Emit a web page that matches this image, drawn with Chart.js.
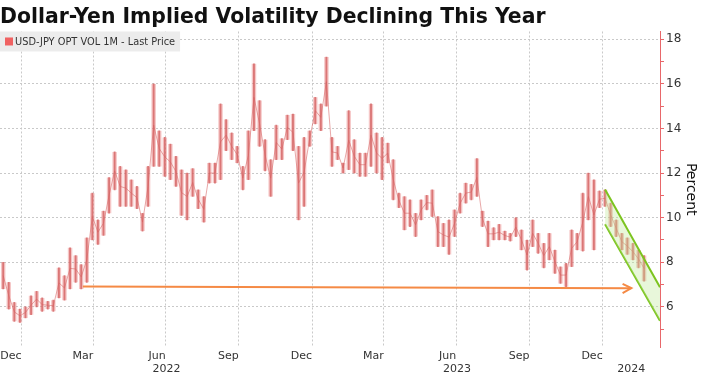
<!DOCTYPE html>
<html>
<head>
<meta charset="utf-8">
<script src="https://cdn.jsdelivr.net/npm/chart.js@4.4.1/dist/chart.umd.min.js"></script>
<style>
  html, body { margin: 0; padding: 0; background: #fff; }
  #wrap { position: relative; width: 701px; height: 376px; }
</style>
</head>
<body>
<div id="wrap"><canvas id="chart" width="701" height="376"></canvas></div>
<script>
/* ─── Data ───────────────────────────────────────────────────────────────── */
const DAY  = 86400000;
const BASE = Date.UTC(2021, 11, 31);
const dayOf = s => (Date.parse(s) - BASE) / DAY;

const TITLE        = 'Dollar-Yen Implied Volatility Declining This Year';
const SERIES_LABEL = 'USD-JPY OPT VOL 1M - Last Price';
const Y_TITLE      = 'Percent';

// weekly low/high, one bar per week, first week centred on this Wednesday
const FIRST_WEEK = '2021-12-08';
const WEEK_LOW = [
  6.8, 5.9, 5.35, 5.3, 5.5, 5.65, 6.0, 5.8, 5.9, 5.8,
  6.4, 6.3, 6.8, 7.1, 6.8, 7.1, 9.0, 8.8, 9.2, 10.2,
  11.25, 10.5, 10.5, 10.5, 10.4, 9.4, 10.5, 12.3, 12.3, 11.85,
  11.7, 11.4, 10.1, 9.9, 10.95, 10.4, 9.8, 11.55, 11.55, 11.7,
  13.0, 12.6, 12.45, 11.25, 11.7, 13.9, 13.2, 12.1, 10.95, 12.6,
  12.6, 13.5, 13.0, 9.9, 10.5, 13.2, 14.2, 13.9, 15.0, 12.3,
  12.6, 12.0, 12.15, 12.0, 11.85, 11.85, 12.3, 12.0, 11.7, 12.45,
  10.8, 10.45, 9.45, 9.6, 9.15, 9.9, 10.35, 10.05, 8.7, 8.7,
  8.35, 9.15, 10.2, 10.65, 10.8, 10.95, 9.6, 8.7, 9.0, 9.0,
  9.0, 8.95, 9.15, 8.55, 7.65, 8.7, 8.4, 7.75, 8.1, 7.5,
  7.05, 6.9, 7.8, 8.55, 8.5, 9.9, 8.55, 10.45, 10.5, 9.6,
  9.15, 8.55, 8.35, 8.1, 7.75, 7.15
];
const WEEK_HIGH = [
  8.0, 7.1, 6.2, 5.9, 6.0, 6.5, 6.7, 6.4, 6.25, 6.3,
  7.75, 7.4, 8.65, 8.3, 7.9, 9.1, 11.1, 9.9, 10.3, 11.8,
  12.95, 12.3, 12.15, 11.7, 11.4, 10.2, 12.3, 16.0, 13.9, 13.6,
  13.3, 12.75, 12.15, 12.0, 12.2, 11.25, 10.95, 12.45, 12.45, 15.1,
  14.4, 13.8, 13.2, 12.3, 13.9, 16.9, 15.25, 13.5, 12.6, 14.15,
  13.55, 14.6, 14.65, 13.2, 13.6, 13.9, 15.4, 15.1, 17.2, 13.6,
  13.2, 12.45, 14.8, 13.5, 12.9, 12.9, 15.1, 13.8, 13.6, 13.35,
  12.6, 11.1, 10.95, 10.8, 10.2, 10.8, 11.0, 11.25, 10.05, 9.75,
  9.9, 10.35, 11.1, 11.55, 11.5, 12.65, 10.3, 9.85, 9.55, 9.7,
  9.4, 9.3, 10.0, 9.45, 9.0, 9.9, 9.3, 8.85, 9.3, 8.55,
  7.8, 7.95, 9.45, 9.3, 11.1, 12.0, 11.7, 11.2, 11.25, 10.65,
  9.9, 9.3, 9.1, 8.85, 8.55, 8.3
];

const X_RANGE      = ['2021-12-04', '2024-03-12'];
const MONTH_TICKS  = ['2021-12-31', '2022-03-31', '2022-06-30', '2022-09-30', '2022-12-31',
                      '2023-03-31', '2023-06-30', '2023-09-30', '2023-12-31'];
const MONTH_LABELS = ['Dec', 'Mar', 'Jun', 'Sep', 'Dec', 'Mar', 'Jun', 'Sep', 'Dec'];
const YEAR_TICKS   = ['2022-07-01', '2023-07-01', '2024-02-05'];
const YEAR_LABELS  = ['2022', '2023', '2024'];
const Y_RANGE      = [4.2, 18.35];
const Y_TICKS      = [5, 6, 7, 8, 9, 10, 11, 12, 13, 14, 15, 16, 17, 18];

// annotations drawn on top of the chart
const ARROW_X      = ['2022-03-18', '2024-02-05'];
const ARROW_Y      = [6.91, 6.84];
const ARROW_HEAD_X = ['2024-01-25', '2024-02-05', '2024-01-25'];
const ARROW_HEAD_Y = [7.03, 6.84, 6.62];
const CHANNEL_X    = ['2024-01-03', '2024-03-12'];
const CHANNEL_TOP  = [11.26, 6.88];
const CHANNEL_LOW  = [9.71, 5.38];

/* ─── Styles ─────────────────────────────────────────────────────────────── */
const FONT   = '"DejaVu Sans", Verdana, sans-serif';
const RED    = '#e8676a';
const GRID   = '#c9c9c9';
const ORANGE = '#f58a45';
const GREEN  = '#7cc41f';

const pts = (xs, ys) => xs.map((s, i) => ({ x: dayOf(s), y: ys[i] }));
const firstDay = dayOf(FIRST_WEEK);
const weekBars = WEEK_LOW.map((lo, i) => ({ x: firstDay + 7 * i, y: [lo, WEEK_HIGH[i]] }));
const weekMid  = weekBars.map(b => ({ x: b.x, y: (b.y[0] + b.y[1]) / 2 }));

/* ─── Legend box inside the plot ─────────────────────────────────────────── */
const legendBox = {
  id: 'legendBox',
  beforeDatasetsDraw(chart) {
    const { ctx, chartArea: a } = chart;
    ctx.save();
    ctx.font = `9.8px ${FONT}`;
    const w = ctx.measureText(SERIES_LABEL).width;
    ctx.fillStyle = '#ececec';
    ctx.fillRect(a.left, a.top, w + 20, 20);
    ctx.fillStyle = '#f06262';
    ctx.fillRect(a.left + 5, a.top + 6, 8, 8);
    ctx.fillStyle = '#333';
    ctx.textBaseline = 'middle';
    ctx.fillText(SERIES_LABEL, a.left + 15, a.top + 10.5);
    ctx.restore();
  }
};

const zeroPad = axis => {
  axis.paddingLeft = 0; axis.paddingRight = 0;
  axis.paddingTop = 0; axis.paddingBottom = 0;
};

new Chart(document.getElementById('chart'), {
  type: 'bar',
  data: {
    datasets: [
      {
        type: 'line', order: 1,
        data: pts(CHANNEL_X, CHANNEL_TOP),
        borderColor: GREEN, borderWidth: 2, pointRadius: 0,
        fill: '+1', backgroundColor: 'rgba(190,232,150,0.35)'
      },
      {
        type: 'line', order: 2,
        data: pts(CHANNEL_X, CHANNEL_LOW),
        borderColor: GREEN, borderWidth: 2, pointRadius: 0, fill: false
      },
      {
        type: 'line', order: 3,
        data: pts(ARROW_X, ARROW_Y),
        borderColor: ORANGE, borderWidth: 2, pointRadius: 0, fill: false
      },
      {
        type: 'line', order: 4,
        data: pts(ARROW_HEAD_X, ARROW_HEAD_Y),
        borderColor: ORANGE, borderWidth: 2, pointRadius: 0, fill: false
      },
      {
        // thin link between weeks so the series reads as one jagged trace
        type: 'line', order: 8,
        data: weekMid,
        borderColor: 'rgba(214,96,96,0.55)', borderWidth: 1,
        pointRadius: 0, fill: false, tension: 0
      },
      {
        // dark stroke inside each weekly range
        type: 'bar', order: 9, grouped: false,
        data: weekBars,
        backgroundColor: 'rgba(208,88,88,0.72)',
        barThickness: 1.2
      },
      {
        // light weekly range
        type: 'bar', order: 10, grouped: false,
        data: weekBars,
        backgroundColor: 'rgba(234,130,130,0.46)',
        barPercentage: 0.8,
        categoryPercentage: 1
      }
    ]
  },
  options: {
    responsive: false,
    animation: false,
    layout: { padding: 0 },
    plugins: {
      legend: { display: false },
      tooltip: { enabled: false },
      title: {
        display: true,
        text: TITLE,
        align: 'start',
        color: '#111',
        font: { family: FONT, size: 20.4, weight: 'bold' },
        padding: { top: 5, bottom: 2 }
      }
    },
    scales: {
      x: {
        type: 'linear',
        position: 'bottom',
        weight: 0,
        offset: false,
        min: dayOf(X_RANGE[0]),
        max: dayOf(X_RANGE[1]),
        afterBuildTicks: axis => { axis.ticks = MONTH_TICKS.map(s => ({ value: dayOf(s) })); },
        afterFit: axis => { axis.height = 15; zeroPad(axis); },
        ticks: {
          autoSkip: false, maxRotation: 0, align: 'end', padding: 3,
          color: '#333', font: { family: FONT, size: 11 },
          callback: (v, i) => MONTH_LABELS[i]
        },
        grid: { color: GRID, drawTicks: false, offset: false },
        border: { display: false, dash: [2, 2] }
      },
      xYear: {
        type: 'linear',
        position: 'bottom',
        weight: 1,
        offset: false,
        min: dayOf(X_RANGE[0]),
        max: dayOf(X_RANGE[1]),
        afterBuildTicks: axis => { axis.ticks = YEAR_TICKS.map(s => ({ value: dayOf(s) })); },
        afterFit: axis => { axis.height = 14; zeroPad(axis); },
        ticks: {
          autoSkip: false, maxRotation: 0, padding: 1,
          color: '#333', font: { family: FONT, size: 11 },
          callback: (v, i) => YEAR_LABELS[i]
        },
        grid: { display: false, drawTicks: false, offset: false },
        border: { display: false }
      },
      y: {
        position: 'right',
        min: Y_RANGE[0],
        max: Y_RANGE[1],
        afterBuildTicks: axis => { axis.ticks = Y_TICKS.map(v => ({ value: v })); },
        afterFit: axis => { axis.width = 41; zeroPad(axis); },
        ticks: {
          padding: 2, color: '#333', font: { family: FONT, size: 12 },
          callback: v => (v % 2 === 0 ? String(v) : '')
        },
        grid: {
          color: ctx => (ctx.tick && ctx.tick.value % 2 === 0 ? GRID : 'rgba(0,0,0,0)'),
          tickColor: RED, tickLength: 4, tickBorderDash: []
        },
        border: { display: true, color: RED, width: 1, dash: [2, 2] },
        title: {
          display: true, text: Y_TITLE, color: '#111',
          font: { family: FONT, size: 14 }, padding: { top: 2, bottom: 0 }
        }
      }
    }
  },
  plugins: [legendBox]
});
</script>
</body>
</html>
